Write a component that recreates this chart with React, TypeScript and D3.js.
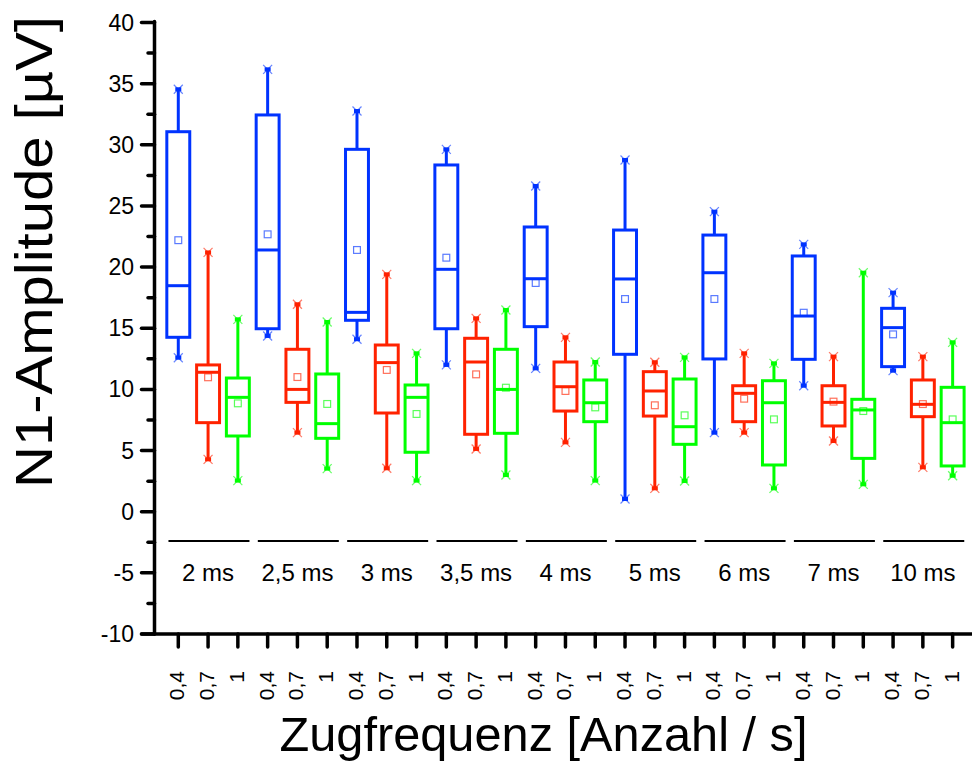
import React from "react";
import * as d3 from "d3";

const groups = ["2 ms", "2,5 ms", "3 ms", "3,5 ms", "4 ms", "5 ms", "6 ms", "7 ms", "10 ms"];
const freqLabels = ["0,4", "0,7", "1"];
const colors = ["#0033ff", "#ff2200", "#00ff00"];

// Blue series (0,4)
const blueHigh = [34.54, 36.17, 32.76, 29.63, 26.63, 28.76, 24.53, 21.86, 17.91];
const blueQ3 = [31.07, 32.44, 29.63, 28.35, 23.28, 23.03, 22.62, 20.91, 16.63];
const blueMedian = [18.48, 21.4, 16.3, 19.82, 19.05, 19.03, 19.54, 16.0, 15.05];
const blueQ1 = [14.26, 14.96, 15.65, 14.96, 15.13, 12.87, 12.49, 12.46, 11.86];
const blueLow = [12.59, 14.37, 14.1, 12.0, 11.72, 1.04, 6.46, 10.3, 11.53];
const blueMean = [22.2, 22.68, 21.4, 20.77, 18.7, 17.39, 17.39, 16.27, 14.5];

// Red series (0,7)
const redHigh = [21.2, 16.96, 19.41, 15.81, 14.26, 12.22, 12.95, 12.68, 12.68];
const redQ3 = [12.0, 13.28, 13.63, 14.18, 12.24, 11.45, 10.3, 10.3, 10.77];
const redMedian = [11.4, 10.0, 12.19, 12.24, 10.22, 9.87, 9.68, 8.94, 8.78];
const redQ1 = [7.28, 8.94, 8.07, 6.33, 8.23, 7.82, 7.36, 7.01, 7.77];
const redLow = [4.28, 6.46, 3.55, 5.13, 5.67, 1.91, 6.46, 5.78, 3.63];
const redMean = [10.99, 11.01, 11.59, 11.23, 9.87, 8.7, 9.24, 9.0, 8.8];

// Green series (1)
const greenHigh = [15.73, 15.51, 12.95, 16.49, 12.24, 12.62, 12.13, 19.54, 13.85];
const greenQ3 = [10.93, 11.26, 10.36, 13.28, 10.77, 10.85, 10.71, 9.19, 10.17];
const greenMedian = [9.35, 7.2, 9.35, 10.0, 8.91, 6.95, 8.91, 8.32, 7.28];
const greenQ1 = [6.19, 6.0, 4.86, 6.41, 7.36, 5.51, 3.82, 4.36, 3.74];
const greenLow = [2.54, 3.52, 2.54, 3.0, 2.54, 2.51, 1.91, 2.24, 2.94];
const greenMean = [8.86, 8.81, 7.99, 10.14, 8.53, 7.88, 7.55, 8.23, 7.55];

const yMajorTicks = [-10, -5, 0, 5, 10, 15, 20, 25, 30, 35, 40];
const yMinorTicks = [-7.5, -2.5, 2.5, 7.5, 12.5, 17.5, 22.5, 27.5, 32.5, 37.5];
const separatorValue = -2.4;

const series = [
  { high: blueHigh, q3: blueQ3, median: blueMedian, q1: blueQ1, low: blueLow, mean: blueMean },
  { high: redHigh, q3: redQ3, median: redMedian, q1: redQ1, low: redLow, mean: redMean },
  { high: greenHigh, q3: greenQ3, median: greenMedian, q1: greenQ1, low: greenLow, mean: greenMean },
];

const W = 972;
const H = 764;
const FONT = "'Liberation Sans', Arial, Helvetica, sans-serif";

export default function App() {
  const x = d3.scaleLinear().domain([-0.782, 26.65]).range([155, 972]);
  const y = d3.scaleLinear().domain([-10, 40]).range([634, 22.5]);
  const step = x(1) - x(0);
  const boxW = step * 0.77;

  const boxes: React.ReactNode[] = [];
  groups.forEach((g, gi) => {
    series.forEach((s, si) => {
      const idx = gi * 3 + si;
      const cx = x(idx);
      const c = colors[si];
      const yHigh = y(s.high[gi]);
      const yLow = y(s.low[gi]);
      const yQ3 = y(s.q3[gi]);
      const yQ1 = y(s.q1[gi]);
      const yMed = y(s.median[gi]);
      const yMean = y(s.mean[gi]);
      const endMarker = (yy: number, key: string) => (
        <g key={key}>
          <rect x={cx - 3} y={yy - 2} width={6} height={4} fill={c} />
          <line x1={cx - 4.5} y1={yy - 4.5} x2={cx + 4.5} y2={yy + 4.5} stroke={c} strokeOpacity={0.6} strokeWidth={1.2} />
          <line x1={cx - 4.5} y1={yy + 4.5} x2={cx + 4.5} y2={yy - 4.5} stroke={c} strokeOpacity={0.6} strokeWidth={1.2} />
        </g>
      );
      boxes.push(
        <g key={`b${idx}`}>
          <line x1={cx} x2={cx} y1={yHigh} y2={yQ3} stroke={c} strokeWidth={3} />
          <line x1={cx} x2={cx} y1={yQ1} y2={yLow} stroke={c} strokeWidth={3} />
          <rect x={cx - boxW / 2} y={yQ3} width={boxW} height={yQ1 - yQ3} fill="none" stroke={c} strokeWidth={3} />
          <line x1={cx - boxW / 2} x2={cx + boxW / 2} y1={yMed} y2={yMed} stroke={c} strokeWidth={3} />
          <rect x={cx - 3.4} y={yMean - 3.4} width={6.8} height={6.8} fill="none" stroke={c} strokeOpacity={0.65} strokeWidth={1.2} />
          {endMarker(yHigh, "h")}
          {endMarker(yLow, "l")}
        </g>
      );
    });
  });

  return (
    <svg width={W} height={H} style={{ position: "absolute", left: 0, top: 0, background: "#fff" }} fontFamily={FONT}>
      <rect x={0} y={0} width={W} height={H} fill="#fff" />
      {/* group separators and labels */}
      {groups.map((g, gi) => (
        <g key={`sep${gi}`}>
          <line x1={x(gi * 3 - 0.33)} x2={x(gi * 3 + 2.39)} y1={y(separatorValue)} y2={y(separatorValue)} stroke="#000" strokeWidth={2} />
          <text x={x(gi * 3 + 1)} y={581} fontSize={24} textAnchor="middle" fill="#000">{g}</text>
        </g>
      ))}
      {boxes}
      {/* y axis */}
      <line x1={154.5} x2={154.5} y1={y(40) - 1} y2={y(-10)} stroke="#000" strokeWidth={3.5} strokeLinecap="round" />
      {yMajorTicks.map((t) => (
        <g key={`ym${t}`}>
          <line x1={141.5} x2={154.5} y1={y(t)} y2={y(t)} stroke="#000" strokeWidth={3.5} strokeLinecap="round" />
          <text x={134} y={y(t)} dy="0.35em" fontSize={23} textAnchor="end" fill="#000">{String(t)}</text>
        </g>
      ))}
      {yMinorTicks.map((t) => (
        <line key={`yn${t}`} x1={148} x2={154.5} y1={y(t)} y2={y(t)} stroke="#000" strokeWidth={3.5} strokeLinecap="round" />
      ))}
      {/* x axis */}
      <line x1={141.5} x2={W + 5} y1={y(-10)} y2={y(-10)} stroke="#000" strokeWidth={3.5} strokeLinecap="round" />
      {d3.range(27).map((i) => (
        <g key={`xt${i}`}>
          <line x1={x(i)} x2={x(i)} y1={y(-10)} y2={647} stroke="#000" strokeWidth={3.5} strokeLinecap="round" />
          <text transform={`translate(${x(i) + 6},${671}) rotate(-90)`} fontSize={21} textAnchor="end" fill="#000">
            {freqLabels[i % 3]}
          </text>
        </g>
      ))}
      {/* titles */}
      <text transform={`translate(52,252) rotate(-90)`} fontSize={52} textAnchor="middle" textLength={472} lengthAdjust="spacingAndGlyphs" fill="#000">N1-Amplitude [µV]</text>
      <text x={543.5} y={751} fontSize={48} textAnchor="middle" textLength={528} lengthAdjust="spacingAndGlyphs" fill="#000">Zugfrequenz [Anzahl / s]</text>
    </svg>
  );
}
